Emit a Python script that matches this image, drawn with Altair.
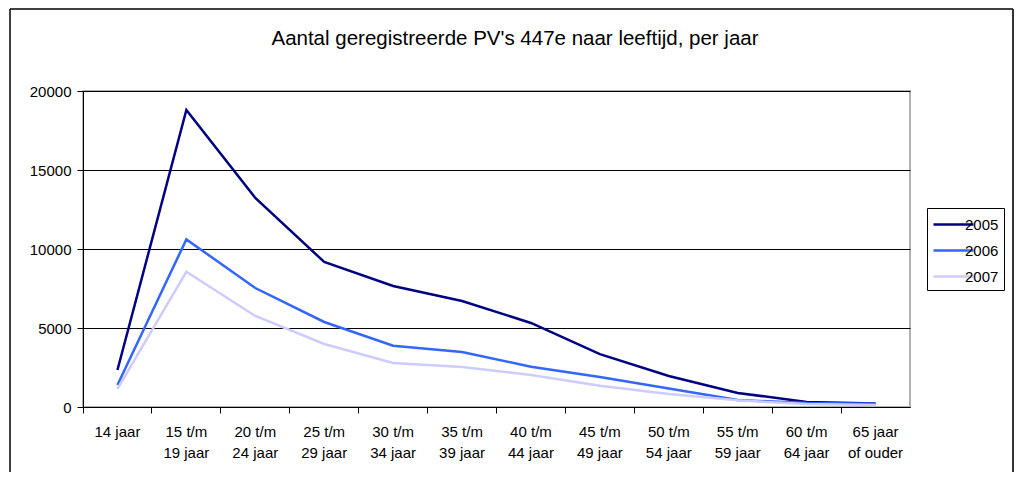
import altair as alt
import pandas as pd

title_text = "Aantal geregistreerde PV's 447e naar leeftijd, per jaar"
categories = ["14 jaar", "15 t/m 19 jaar", "20 t/m 24 jaar", "25 t/m 29 jaar",
              "30 t/m 34 jaar", "35 t/m 39 jaar", "40 t/m 44 jaar", "45 t/m 49 jaar",
              "50 t/m 54 jaar", "55 t/m 59 jaar", "60 t/m 64 jaar", "65 jaar of ouder"]
v2005 = [2340, 18800, 13230, 9180, 7660, 6710, 5320, 3350, 1960, 890, 320, 220]
v2006 = [1390, 10610, 7530, 5380, 3880, 3480, 2550, 1900, 1170, 440, 250, 200]
v2007 = [1140, 8560, 5760, 3990, 2790, 2530, 2030, 1350, 830, 420, 190, 130]
years = ["2005", "2006", "2007"]
colors = ["#000080", "#3366FF", "#CCCCFF"]

rows = []
for y, vals in zip(years, [v2005, v2006, v2007]):
    for c, v in zip(categories, vals):
        rows.append({"cat": c, "jaar": y, "aantal": v})
df = pd.DataFrame(rows)

label_expr = ("length(split(datum.label, ' ')) > 2 ? "
              "[join(slice(split(datum.label, ' '), 0, 2), ' '), join(slice(split(datum.label, ' '), 2), ' ')]"
              " : datum.label")

FONT = "Liberation Sans"

lines = alt.Chart(df).mark_line(strokeWidth=2.5).encode(
    x=alt.X("cat:N", sort=categories, title=None,
            scale=alt.Scale(type="band", paddingInner=0, paddingOuter=0),
            axis=alt.Axis(labelAngle=0, labelExpr=label_expr, bandPosition=0,
                          domainColor="black", tickColor="black", tickSize=6,
                          labelFont=FONT, labelFontSize=15, labelColor="black",
                          labelLineHeight=21, labelPadding=11, grid=False,
                          labelBaseline="top")),
    y=alt.Y("aantal:Q", title=None,
            scale=alt.Scale(domain=[0, 20000], nice=False),
            axis=alt.Axis(values=[0, 5000, 10000, 15000, 20000], format="d",
                          domainColor="black", tickColor="black", tickSize=6,
                          labelFont=FONT, labelFontSize=15, labelColor="black",
                          labelPadding=6, gridColor="black", gridWidth=1)),
    color=alt.Color("jaar:N", scale=alt.Scale(domain=years, range=colors),
                    legend=alt.Legend(title=None, orient="none", legendX=844, legendY=117,
                                      symbolType="M-2,0H2", symbolSize=400, symbolStrokeWidth=2.5,
                                      symbolOffset=10,
                                      strokeColor="black", padding=5, rowPadding=6,
                                      labelFont=FONT, labelFontSize=15,
                                      labelColor="black", labelOffset=0)),
)

one = pd.DataFrame({"t": [title_text]})
top_rule = alt.Chart(one).mark_rule(color="black", strokeWidth=1.5).encode(
    x=alt.value(-73), x2=alt.value(930), y=alt.value(-82)
)
left_rule = alt.Chart(one).mark_rule(color="black", strokeWidth=1.5).encode(
    x=alt.value(-73), y=alt.value(-82), y2=alt.value(400)
)
right_rule = alt.Chart(one).mark_rule(color="#333333", strokeWidth=2).encode(
    x=alt.value(930), y=alt.value(-82), y2=alt.value(400)
)
title = alt.Chart(one).mark_text(font=FONT, fontSize=20.5, color="black",
                                 align="center", baseline="alphabetic").encode(
    text="t:N", x=alt.value(432), y=alt.value(-46)
)

chart = alt.layer(lines, top_rule, left_rule, right_rule, title).properties(
    width=827, height=316,
    autosize=alt.AutoSizeParams(type="none"),
    padding={"left": 75, "top": 83, "right": 104, "bottom": 65},
).configure_view(stroke="#999999", strokeWidth=1.5)

chart.save("out.html", embed_options={"renderer": "svg", "actions": False})
